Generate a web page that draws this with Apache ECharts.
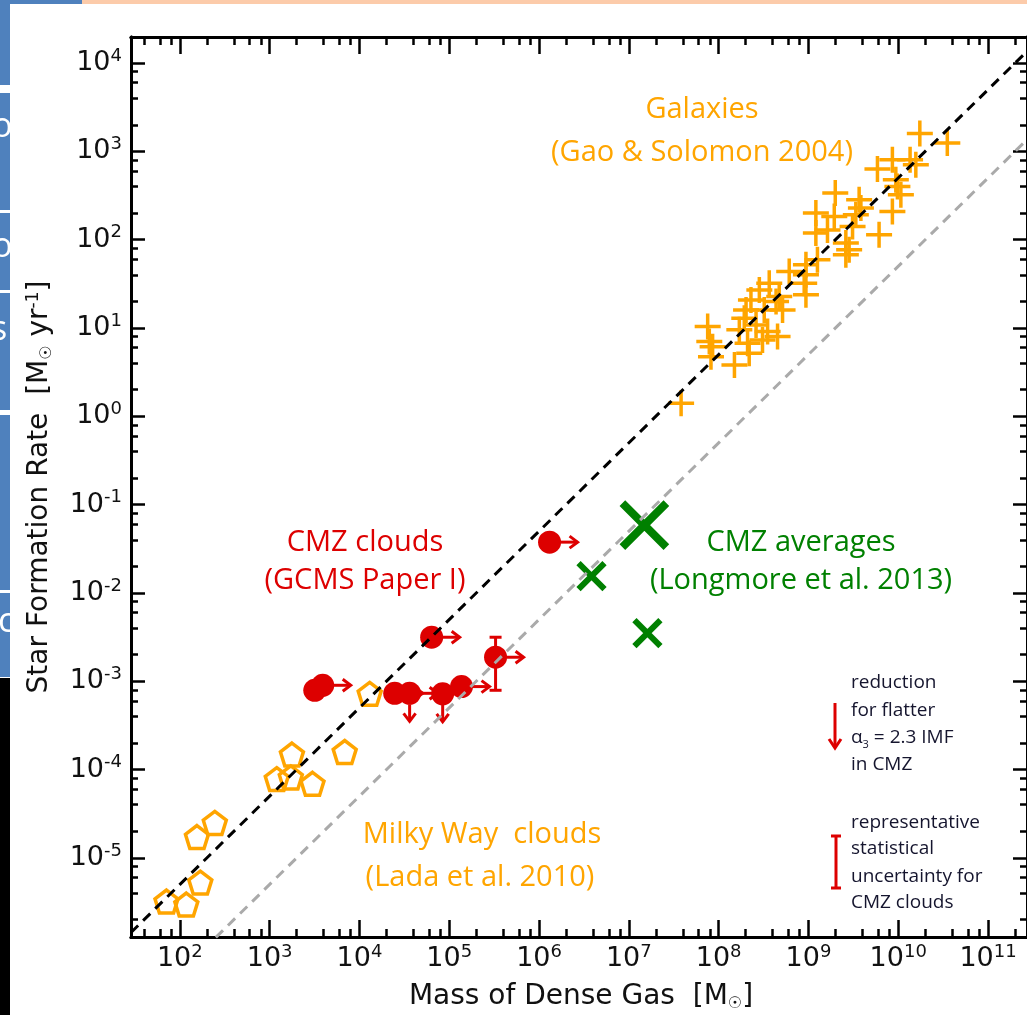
<!DOCTYPE html>
<html><head><meta charset="utf-8">
<script src="https://cdn.jsdelivr.net/npm/echarts@6/dist/echarts.min.js"></script>
<style>html,body{margin:0;padding:0;background:#fff}#c{width:1027px;height:1015px}</style>
</head><body><div id="c"></div>
<script>
// ---------------- data ----------------
const xMajor = [1e2, 1e3, 1e4, 1e5, 1e6, 1e7, 1e8, 1e9, 1e10, 1e11];
const yMajor = [1e-5, 1e-4, 1e-3, 1e-2, 1e-1, 1e0, 1e1, 1e2, 1e3, 1e4];
const minorMult = [2, 4, 6, 8];

// Milky Way clouds (Lada et al. 2010): [mass, SFR]
const milkyWay = [
  [71, 3.2e-6], [118, 2.96e-6], [169, 5.25e-6], [155, 1.72e-5], [245, 2.49e-5],
  [1200, 7.8e-5], [1770, 1.48e-4], [1720, 8.15e-5], [3000, 6.9e-5], [6850, 1.58e-4],
  [13000, 7.2e-4]
];

// Galaxies (Gao & Solomon 2004): [mass, SFR]
const galaxies = [
  [1.74e10, 1589], [3.52e10, 1245], [5.87e9, 632], [8.61e9, 805], [1.355e10, 805],
  [1.57e10, 706], [9.40e9, 478], [9.79e9, 401], [1.07e10, 323], [8.61e9, 209],
  [1.99e9, 338], [3.67e9, 284], [3.84e9, 228], [3.37e9, 192], [1.21e9, 200],
  [1.94e9, 183], [1.63e9, 129], [6.12e9, 114], [3.10e9, 141], [1.21e9, 119],
  [2.61e9, 91.6], [2.84e9, 76.9], [2.61e9, 67.5], [9.38e8, 52.0], [1.26e9, 59.2],
  [6.11e8, 43.7], [9.38e8, 40.0], [3.66e8, 32.2], [8.97e8, 32.2], [9.38e8, 23.8],
  [4.73e8, 22.7], [4.36e8, 20.0], [2.84e8, 27.0], [2.29e8, 20.8], [2.02e8, 16.0],
  [5.15e8, 16.0], [3.22e8, 16.0], [1.93e8, 12.9], [2.61e8, 10.8], [1.70e8, 9.53],
  [3.51e8, 9.10], [4.53e8, 8.00], [2.10e8, 6.73], [3.08e8, 7.33], [7.55e7, 10.4],
  [7.87e7, 7.01], [8.57e7, 6.15], [8.22e7, 4.74], [1.50e8, 3.82], [2.19e8, 5.19],
  [3.82e7, 1.41]
];

// CMZ clouds (GCMS Paper I): [mass, SFR]
const cmzClouds = [
  [3.18e3, 7.9e-4], [3.9e3, 9.0e-4], [2.47e4, 7.3e-4], [3.62e4, 7.3e-4], [8.45e4, 7.2e-4],
  [1.37e5, 8.7e-4], [3.28e5, 1.87e-3], [6.37e4, 3.15e-3], [1.31e6, 0.0376]
];
// lower limits in mass (arrow to the right)
const cmzMassLimits = [
  [3.9e3, 9.0e-4], [2.47e4, 7.3e-4], [3.62e4, 7.3e-4], [1.37e5, 8.7e-4],
  [3.28e5, 1.87e-3], [6.37e4, 3.15e-3], [1.31e6, 0.0376]
];
// reduction for flatter IMF (arrow down)
const cmzSfrDown = [[3.62e4, 7.3e-4], [8.45e4, 7.2e-4]];
// statistical uncertainty: [mass, low, high]
const cmzError = [[3.28e5, 7.9e-4, 3.15e-3]];

// CMZ averages (Longmore et al. 2013)
const cmzAvgTotal = [[1.49e7, 0.0586]];
const cmzAvgParts = [[3.84e6, 0.0155], [1.61e7, 3.5e-3]];

// SFR / M_dense relations (dashed lines)
const relDense = 5.0e-8;
const relCMZ = 5.0e-9;

// ---------------- layout / style ----------------
const ORANGE = '#FFA500', RED = '#DD0000', GREEN = '#008000', INK = '#15152e';
const xMin = Math.pow(10, 1.456), xMax = Math.pow(10, 11.434);
const yMin = Math.pow(10, -5.896), yMax = Math.pow(10, 4.295);

function minors(k0, k1, lo, hi) {
  const out = [];
  for (let k = k0; k <= k1; k++) for (const m of minorMult) {
    const v = m * Math.pow(10, k);
    if (v > lo && v < hi) out.push(v);
  }
  return out;
}
const xMinor = minors(1, 11, xMin, xMax);
const yMinor = minors(-6, 4, yMin, yMax);

const labelRich = {
  b: { fontSize: 27, fontFamily: 'DejaVu Sans', color: '#111', lineHeight: 32 },
  s: { fontSize: 18, fontFamily: 'DejaVu Sans', color: '#111', lineHeight: 18, verticalAlign: 'top' }
};
function fmtPow(v) {
  const e = Math.round(Math.log10(v));
  return '{b|10}{s|' + (e < 0 ? '-' + (-e) : e) + '}';
}

function mkAxis(kind, pos, ticks, len, withLabels) {
  const isX = kind === 'x';
  const ax = {
    type: 'log', logBase: 10, position: pos,
    min: isX ? xMin : yMin, max: isX ? xMax : yMax,
    axisLine: { show: true, onZero: false, lineStyle: { color: '#000', width: 3 } },
    axisTick: { show: true, inside: true, length: len, customValues: ticks,
                lineStyle: { color: '#000', width: 2.5 } },
    axisLabel: { show: false },
    splitLine: { show: false }, minorTick: { show: false }, minorSplitLine: { show: false }
  };
  if (withLabels) {
    ax.axisLabel = { show: true, customValues: ticks, formatter: fmtPow, rich: labelRich,
                     margin: isX ? 6 : 9 };
  }
  return ax;
}

function arrowItem(dir) {
  return function (params, api) {
    const p = api.coord([api.value(0), api.value(1)]);
    const s = 11, L = 28, h = 8;
    let a, b, head;
    if (dir === 'r') {
      a = [p[0] + s, p[1]]; b = [p[0] + L, p[1]];
      head = [[b[0] - h, b[1] - h * 0.75], b, [b[0] - h, b[1] + h * 0.75]];
    } else {
      a = [p[0], p[1] + s]; b = [p[0], p[1] + L];
      head = [[b[0] - h * 0.75, b[1] - h], b, [b[0] + h * 0.75, b[1] - h]];
    }
    return { type: 'group', children: [
      { type: 'line', shape: { x1: a[0], y1: a[1], x2: b[0], y2: b[1] },
        style: { stroke: RED, lineWidth: 3 } },
      { type: 'polyline', shape: { points: head }, style: { stroke: RED, lineWidth: 3, fill: null } }
    ] };
  };
}
function errItem(params, api) {
  const lo = api.coord([api.value(0), api.value(1)]);
  const hi = api.coord([api.value(0), api.value(2)]);
  const c = 6;
  return { type: 'group', children: [
    { type: 'line', shape: { x1: lo[0], y1: lo[1], x2: hi[0], y2: hi[1] }, style: { stroke: RED, lineWidth: 3 } },
    { type: 'line', shape: { x1: lo[0] - c, y1: lo[1], x2: lo[0] + c, y2: lo[1] }, style: { stroke: RED, lineWidth: 3 } },
    { type: 'line', shape: { x1: hi[0] - c, y1: hi[1], x2: hi[0] + c, y2: hi[1] }, style: { stroke: RED, lineWidth: 3 } }
  ] };
}

const PENTAGON = 'path://M50,0L97.55,34.55L79.39,90.45L20.61,90.45L2.45,34.55Z';
const PLUS = 'path://M0,50L100,50M50,0L50,100';
const CROSS = 'path://M0,0L100,100M100,0L0,100';

const sans = '"Open Sans"';
function txt(text, x, y, color, size, align) {
  return { type: 'text', x: x, y: y, silent: true,
    style: { text: text, fill: color, font: size + 'px ' + sans, align: align || 'center', verticalAlign: 'middle' } };
}

const chart = echarts.init(document.getElementById('c'), null, { renderer: 'canvas' });
chart.setOption({
  animation: false,
  backgroundColor: '#fff',
  grid: { left: 131, top: 37, width: 897, height: 900, containLabel: false },
  xAxis: [
    mkAxis('x', 'bottom', xMajor, 17, true),
    mkAxis('x', 'bottom', xMinor, 8, false),
    mkAxis('x', 'top', xMajor, 17, false),
    mkAxis('x', 'top', xMinor, 8, false)
  ],
  yAxis: [
    mkAxis('y', 'left', yMajor, 14, true),
    mkAxis('y', 'left', yMinor, 7, false),
    mkAxis('y', 'right', yMajor, 14, false),
    mkAxis('y', 'right', yMinor, 7, false)
  ],
  series: [
    { type: 'line', name: 'dense relation', showSymbol: false, silent: true,
      data: [[xMin, relDense * xMin], [xMax, relDense * xMax]],
      lineStyle: { color: '#000', width: 3, type: [10, 7] } },
    { type: 'line', name: 'CMZ relation', showSymbol: false, silent: true,
      data: [[xMin, relCMZ * xMin], [xMax, relCMZ * xMax]],
      lineStyle: { color: '#AAAAAA', width: 3, type: [10, 7] } },
    { type: 'scatter', name: 'Milky Way clouds', data: milkyWay, symbol: PENTAGON, symbolSize: 23,
      itemStyle: { color: 'rgba(0,0,0,0)', borderColor: ORANGE, borderWidth: 3.5, opacity: 1 } },
    { type: 'scatter', name: 'Galaxies', data: galaxies, symbol: PLUS, symbolSize: 26,
      itemStyle: { color: 'rgba(0,0,0,0)', borderColor: ORANGE, borderWidth: 3.5, opacity: 1 } },
    { type: 'custom', name: 'mass limits', data: cmzMassLimits, renderItem: arrowItem('r'),
      encode: { x: 0, y: 1 }, silent: true },
    { type: 'custom', name: 'IMF reduction', data: cmzSfrDown, renderItem: arrowItem('d'),
      encode: { x: 0, y: 1 }, silent: true },
    { type: 'custom', name: 'uncertainty', data: cmzError, renderItem: errItem,
      encode: { x: 0, y: [1, 2] }, silent: true },
    { type: 'scatter', name: 'CMZ clouds', data: cmzClouds, symbol: 'circle', symbolSize: 23,
      itemStyle: { color: RED, opacity: 1 } },
    { type: 'scatter', name: 'CMZ averages', data: cmzAvgParts, symbol: CROSS, symbolSize: 26,
      itemStyle: { color: 'rgba(0,0,0,0)', borderColor: GREEN, borderWidth: 6, opacity: 1 } },
    { type: 'scatter', name: 'CMZ average', data: cmzAvgTotal, symbol: CROSS, symbolSize: 44,
      itemStyle: { color: 'rgba(0,0,0,0)', borderColor: GREEN, borderWidth: 8, opacity: 1 } }
  ],
  graphic: [
    // slide decorations
    { type: 'rect', shape: { x: 0, y: 0, width: 82, height: 4 }, style: { fill: '#4F81BD' }, silent: true },
    { type: 'rect', shape: { x: 82, y: 0, width: 945, height: 4 }, style: { fill: '#FCCBAA' }, silent: true },
    { type: 'rect', shape: { x: 0, y: 0, width: 10, height: 85 }, style: { fill: '#4F81BD' }, silent: true },
    { type: 'rect', shape: { x: 0, y: 93, width: 10, height: 117 }, style: { fill: '#4F81BD' }, silent: true },
    { type: 'rect', shape: { x: 0, y: 213, width: 10, height: 77 }, style: { fill: '#4F81BD' }, silent: true },
    { type: 'rect', shape: { x: 0, y: 293, width: 10, height: 117 }, style: { fill: '#4F81BD' }, silent: true },
    { type: 'rect', shape: { x: 0, y: 415, width: 10, height: 175 }, style: { fill: '#4F81BD' }, silent: true },
    { type: 'rect', shape: { x: 0, y: 593, width: 10, height: 84 }, style: { fill: '#4F81BD' }, silent: true },
    { type: 'rect', shape: { x: 0, y: 678, width: 10, height: 337 }, style: { fill: '#000' }, silent: true },
    txt('o', -8, 127, '#fff', 34, 'left'),
    txt('o', -8, 247, '#fff', 34, 'left'),
    txt('s', -9, 330, '#fff', 34, 'left'),
    txt('c', -2, 622, '#fff', 34, 'left'),
    // axis titles
    { type: 'text', x: 581, y: 997, silent: true,
      style: { text: '{t|Mass of Dense Gas  [M}{u|☉}{t|]}', align: 'center', verticalAlign: 'middle',
        rich: { t: { fontSize: 28, fontFamily: 'DejaVu Sans', fill: '#111', lineHeight: 30 },
                u: { fontSize: 16, fontFamily: 'DejaVu Sans', fill: '#111', lineHeight: 6, verticalAlign: 'bottom' } } } },
    { type: 'text', x: 40, y: 487, rotation: Math.PI / 2, silent: true,
      style: { text: '{t|Star Formation Rate  [M}{u|☉}{t| yr}{p|-1}{t|]}', align: 'center', verticalAlign: 'middle',
        rich: { t: { fontSize: 28, fontFamily: 'DejaVu Sans', fill: '#111', lineHeight: 30 },
                u: { fontSize: 16, fontFamily: 'DejaVu Sans', fill: '#111', lineHeight: 8, verticalAlign: 'bottom' },
                p: { fontSize: 17, fontFamily: 'DejaVu Sans', fill: '#111', lineHeight: 16, verticalAlign: 'top' } } } },
    // in-plot labels
    txt('Galaxies', 702, 110, ORANGE, 29),
    txt('(Gao & Solomon 2004)', 702, 153, ORANGE, 29),
    txt('CMZ clouds', 365, 543, RED, 29),
    txt('(GCMS Paper I)', 365, 581, RED, 29),
    txt('CMZ averages', 801, 543, GREEN, 29),
    txt('(Longmore et al. 2013)', 801, 581, GREEN, 29),
    txt('Milky Way  clouds', 482, 835, ORANGE, 29),
    txt('(Lada et al. 2010)', 480, 878, ORANGE, 29),
    // key annotations
    txt('reduction', 851, 683, INK, 19, 'left'),
    txt('for flatter', 851, 711, INK, 19, 'left'),
    { type: 'text', x: 851, y: 738, silent: true,
      style: { text: '{t|α}{u|3}{t| = 2.3 IMF}', align: 'left', verticalAlign: 'middle',
        rich: { t: { fontSize: 19, fontFamily: sans, fill: INK, lineHeight: 24 },
                u: { fontSize: 11, fontFamily: sans, fill: INK, lineHeight: 14, verticalAlign: 'bottom' } } } },
    txt('in CMZ', 851, 765, INK, 19, 'left'),
    txt('representative', 851, 823, INK, 19, 'left'),
    txt('statistical', 851, 849, INK, 19, 'left'),
    txt('uncertainty for', 851, 877, INK, 19, 'left'),
    txt('CMZ clouds', 851, 903, INK, 19, 'left'),
    { type: 'line', shape: { x1: 835, y1: 703, x2: 835, y2: 747 }, style: { stroke: RED, lineWidth: 3 }, silent: true },
    { type: 'polyline', shape: { points: [[829, 739], [835, 748], [841, 739]] }, style: { stroke: RED, lineWidth: 3, fill: null }, silent: true },
    { type: 'line', shape: { x1: 836, y1: 836, x2: 836, y2: 888 }, style: { stroke: RED, lineWidth: 3 }, silent: true },
    { type: 'line', shape: { x1: 831, y1: 836, x2: 841, y2: 836 }, style: { stroke: RED, lineWidth: 3 }, silent: true },
    { type: 'line', shape: { x1: 831, y1: 888, x2: 841, y2: 888 }, style: { stroke: RED, lineWidth: 3 }, silent: true }
  ]
});
</script>
</body></html>
